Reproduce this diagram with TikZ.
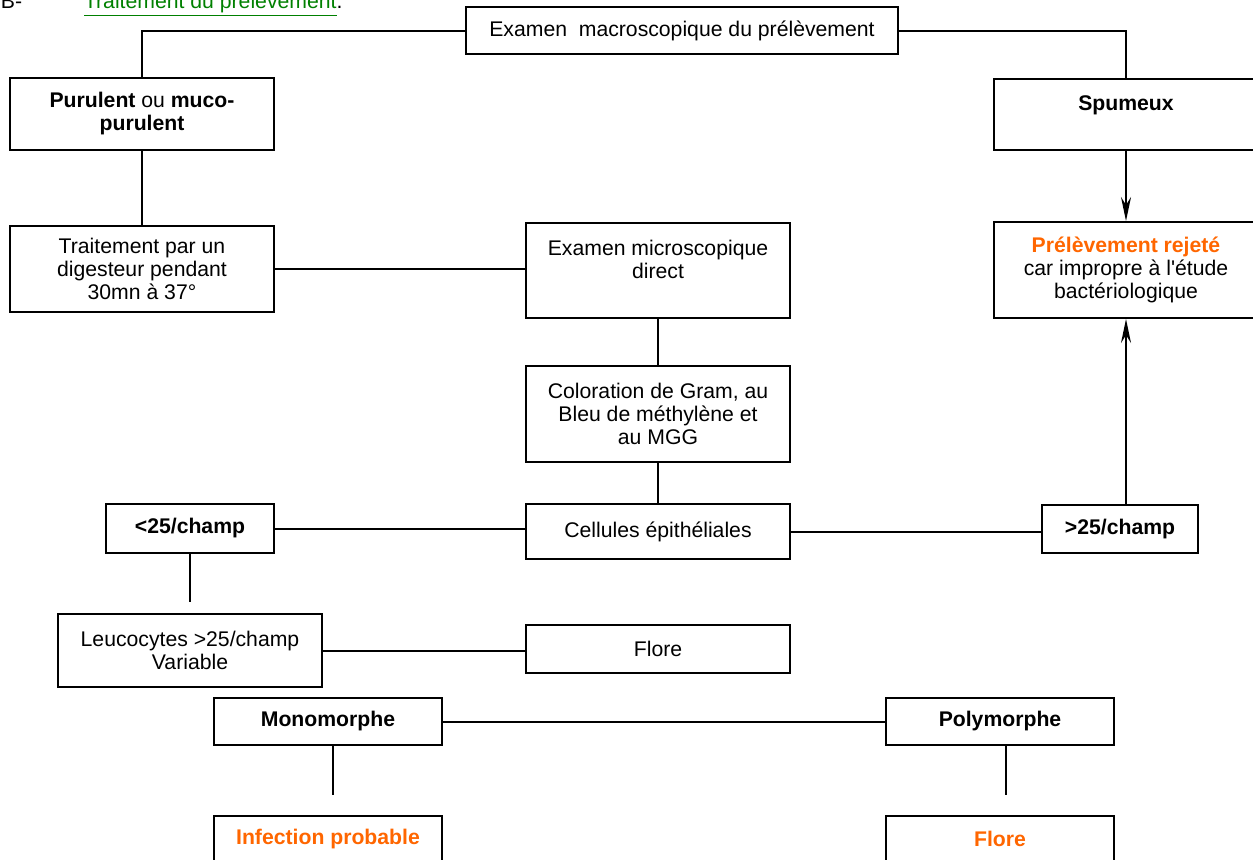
\documentclass[tikz,border=0pt]{standalone}
\usepackage{fontspec}
\setmainfont{Liberation Sans}[Ligatures=TeXOff]
\usetikzlibrary{arrows.meta}
\definecolor{orangetxt}{RGB}{255,102,0}
\definecolor{titlegreen}{RGB}{0,128,0}

\begin{document}
\begin{tikzpicture}[
  x=0.5pt, y=-0.5pt,
  line width=1pt,
  every node/.style={font=\fontsize{10.6pt}{11.5pt}\selectfont},
  box/.style={draw, align=center, inner sep=0, minimum width=132pt},
  small/.style={box, minimum width=84pt},
  mid/.style={box, minimum width=114pt},
  warn/.style={font=\fontsize{10.6pt}{11.5pt}\selectfont\bfseries, text=orangetxt},
  ar/.style={-{Stealth[length=12pt,width=5pt,inset=4pt]}},
  ]
  \clip (0,0) rectangle (1253,859);
  % title
  \node[anchor=base west, inner sep=0] (lettre) at (0,8) {B-};
  \node[anchor=base west, inner sep=0] (titre) at (83,8) {\textcolor{titlegreen}{\underline{Traitement du prélèvement}}.};
  % boxes
  \node[box, minimum width=216pt, minimum height=23.5pt] (macro) at (682,30.5) {Examen~ macroscopique du prélèvement};
  \node[box, minimum height=36pt] (puru) at (142,114) {\textbf{Purulent} ou \textbf{muco-}\\\textbf{purulent}};
  \node[box, minimum height=35.5pt] (spum) at (1126,114.5) {\textbf{Spumeux}\\\mbox{}};
  \node[box, minimum height=43pt] (trait) at (142,269) {Traitement par un\\digesteur pendant\\30mn à 37°};
  \node[box, minimum height=47.5pt] (micro) at (658,270.5) {Examen microscopique\\direct\\\mbox{}};
  \node[box, minimum height=48pt] (rejet) at (1126,270) {{\color{orangetxt}\bfseries Prélèvement rejeté}\\car impropre à l'étude\\bactériologique};
  \node[box, minimum height=48pt] (color) at (658,414) {Coloration de Gram, au\\Bleu de méthylène et\\au MGG};
  \node[small, minimum height=24.5pt] (lt25) at (190,528.5) {\textbf{<25/champ}};
  \node[box, minimum height=27.5pt] (cellu) at (658,531.5) {Cellules épithéliales};
  \node[box, minimum width=78pt, minimum height=24pt] (gt25) at (1120,529) {\textbf{>25/champ}};
  \node[box, minimum height=36.5pt] (leuco) at (190,650.5) {Leucocytes >25/champ\\Variable};
  \node[box, minimum height=24pt] (flore) at (658,649) {Flore};
  \node[mid, minimum height=23.5pt] (mono) at (328,721.5) {\textbf{Monomorphe}};
  \node[mid, minimum height=23.5pt] (poly) at (1000,721.5) {\textbf{Polymorphe}};
  \node[mid, warn, minimum height=23.5pt] (infec) at (328,839) {Infection probable};
  \node[mid, warn, minimum height=23.5pt] (florep) at (1000,839) {Flore};
  % free ends
  \coordinate (lt25end) at (190,602);
  \coordinate (monoend) at (333,795);
  \coordinate (polyend) at (1006,795);
  % connectors
  \draw (macro.west) -| (puru.north);
  \draw (macro.east) -| (spum.north);
  \draw (puru) -- (trait);
  \draw (trait.east) -- (trait.east -| micro.west);
  \draw (micro) -- (color);
  \draw (color) -- (cellu);
  \draw (lt25.east) -- (lt25.east -| cellu.west);
  \draw (cellu.east) -- (cellu.east -| gt25.west);
  \draw[ar] (spum) -- (rejet);
  \draw[ar] (gt25.north -| rejet.south) -- (rejet.south);
  \draw (lt25.south) -- (lt25end);
  \draw (leuco.east) -- (leuco.east -| flore.west);
  \draw (mono) -- (poly);
  \draw (mono.south -| monoend) -- (monoend);
  \draw (poly.south -| polyend) -- (polyend);
\end{tikzpicture}
\end{document}
